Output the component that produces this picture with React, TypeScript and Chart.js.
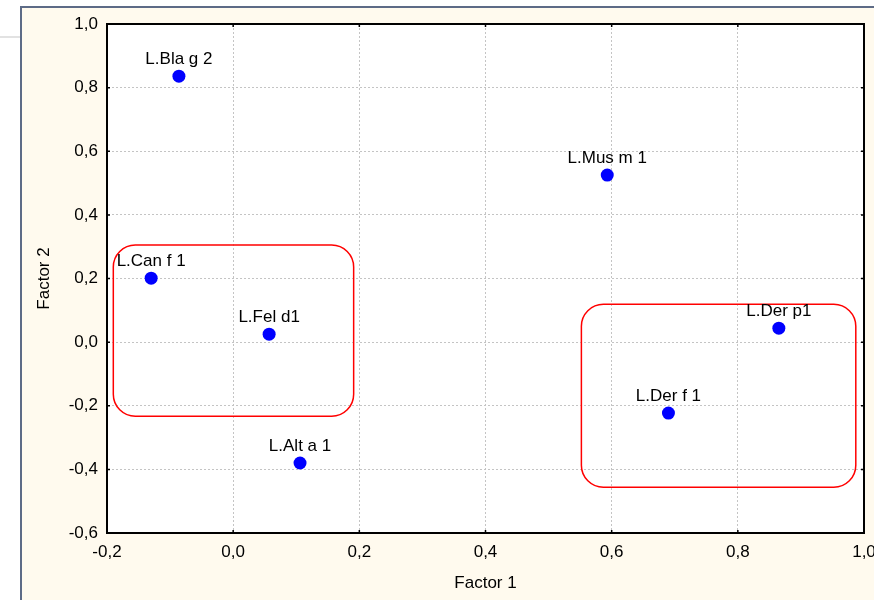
import React, { useEffect, useRef } from "react";
import { Chart, registerables } from "chart.js";

Chart.register(...registerables);

// ---- Data ----
const pointLabels = ["L.Bla g 2", "L.Mus m 1", "L.Can f 1", "L.Fel d1", "L.Alt a 1", "L.Der p1", "L.Der f 1"];
const factor1 = [-0.086, 0.593, -0.13, 0.057, 0.106, 0.865, 0.69];
const factor2 = [0.836, 0.525, 0.201, 0.025, -0.38, 0.044, -0.223];

// Group outlines (data coordinates)
const groupXMin = [-0.19, 0.552];
const groupXMax = [0.191, 0.987];
const groupYMax = [0.305, 0.119];
const groupYMin = [-0.233, -0.456];

const xTitle = "Factor 1";
const yTitle = "Factor 2";
const xMin = -0.2, xMax = 1.0, yMin = -0.6, yMax = 1.0, step = 0.2;

const FONT = '"Liberation Sans", Arial, sans-serif';
const FS = 17;

const fmt = (v: number) => (Math.round(v * 10) / 10).toFixed(1).replace(".", ",").replace("-0,0", "0,0");

const overlayPlugin = {
  id: "overlay",
  beforeDraw(chart: any) {
    const { ctx, chartArea: a } = chart;
    ctx.save();
    ctx.fillStyle = "#ffffff";
    ctx.fillRect(a.left, a.top, a.right - a.left, a.bottom - a.top);
    ctx.restore();
  },
  beforeDatasetsDraw(chart: any) {
    const { ctx } = chart;
    const xs = chart.scales.x, ys = chart.scales.y;
    ctx.save();
    ctx.strokeStyle = "#ff0000";
    ctx.lineWidth = 1.5;
    for (let i = 0; i < groupXMin.length; i++) {
      const l = xs.getPixelForValue(groupXMin[i]);
      const r = xs.getPixelForValue(groupXMax[i]);
      const t = ys.getPixelForValue(groupYMax[i]);
      const b = ys.getPixelForValue(groupYMin[i]);
      ctx.beginPath();
      ctx.roundRect(l, t, r - l, b - t, 22);
      ctx.stroke();
    }
    ctx.restore();
  },
  afterDatasetsDraw(chart: any) {
    const { ctx, chartArea: a } = chart;
    const xs = chart.scales.x, ys = chart.scales.y;
    ctx.save();
    // labels
    ctx.fillStyle = "#000";
    ctx.font = `${FS}px ${FONT}`;
    ctx.textAlign = "center";
    ctx.textBaseline = "alphabetic";
    for (let i = 0; i < pointLabels.length; i++) {
      const px = xs.getPixelForValue(factor1[i]);
      const py = ys.getPixelForValue(factor2[i]);
      ctx.fillText(pointLabels[i], px, py - 12);
    }
    // frame top/right
    ctx.strokeStyle = "#000";
    ctx.lineWidth = 2;
    ctx.beginPath();
    ctx.moveTo(a.left, a.top);
    ctx.lineTo(a.right, a.top);
    ctx.lineTo(a.right, a.bottom);
    ctx.stroke();
    // inward ticks
    ctx.lineWidth = 1.5;
    ctx.beginPath();
    xs.ticks.forEach((t: any) => {
      const x = xs.getPixelForValue(t.value);
      ctx.moveTo(x, a.bottom);
      ctx.lineTo(x, a.bottom - 3);
      ctx.moveTo(x, a.top);
      ctx.lineTo(x, a.top + 3);
    });
    ys.ticks.forEach((t: any) => {
      const y = ys.getPixelForValue(t.value);
      ctx.moveTo(a.left, y);
      ctx.lineTo(a.left + 3, y);
      ctx.moveTo(a.right, y);
      ctx.lineTo(a.right - 3, y);
    });
    ctx.stroke();
    ctx.restore();
  },
};

export default function App() {
  const ref = useRef<HTMLCanvasElement>(null);
  useEffect(() => {
    if (!ref.current) return;
    const lh = FS * 1.2;
    const chart = new Chart(ref.current, {
      type: "scatter",
      data: {
        datasets: [
          {
            data: factor1.map((x, i) => ({ x, y: factor2[i] })),
            backgroundColor: "#0000ff",
            borderWidth: 0,
            pointRadius: 6.5,
            pointHoverRadius: 6.5,
          },
        ],
      },
      options: {
        animation: false,
        responsive: false,
        devicePixelRatio: 1,
        events: [],
        layout: { padding: { left: 20, top: 24, right: 10, bottom: 0 } },
        plugins: { legend: { display: false }, tooltip: { enabled: false } },
        scales: {
          x: {
            type: "linear",
            min: xMin,
            max: xMax,
            afterBuildTicks: (s: any) => {
              const t = [];
              for (let v = 0; v <= Math.round((xMax - xMin) / step); v++) t.push({ value: xMin + v * step });
              s.ticks = t;
            },
            afterFit: (s: any) => {
              s.height = 67;
              s.paddingLeft = 0;
              s.paddingRight = 0;
            },
            grid: { color: "#c4c4c4", lineWidth: 1, drawTicks: false },
            border: { display: true, color: "#000", width: 2, dash: [2, 2] } as any,
            ticks: {
              padding: 9,
              color: "#000",
              font: { family: FONT, size: FS },
              maxRotation: 0,
              autoSkip: false,
              callback: (v: any) => fmt(Number(v)),
            },
            title: {
              display: true,
              text: xTitle,
              color: "#000",
              font: { family: FONT, size: FS },
              padding: { top: 0, bottom: 17 - lh / 2 },
            },
          },
          y: {
            type: "linear",
            min: yMin,
            max: yMax,
            afterBuildTicks: (s: any) => {
              const t = [];
              for (let v = 0; v <= Math.round((yMax - yMin) / step); v++) t.push({ value: yMin + v * step });
              s.ticks = t;
            },
            afterFit: (s: any) => {
              s.width = 87;
              s.paddingTop = 0;
              s.paddingBottom = 0;
            },
            grid: { color: "#c4c4c4", lineWidth: 1, drawTicks: false },
            border: { display: true, color: "#000", width: 2, dash: [2, 2] } as any,
            ticks: {
              padding: 9,
              color: "#000",
              font: { family: FONT, size: FS },
              autoSkip: false,
              callback: (v: any) => fmt(Number(v)),
            },
            title: {
              display: true,
              text: yTitle,
              color: "#000",
              font: { family: FONT, size: FS },
              padding: { top: 24 - lh / 2, bottom: 0 },
            },
          },
        },
      },
      plugins: [overlayPlugin],
    } as any);
    return () => chart.destroy();
  }, []);

  return (
    <div style={{ position: "absolute", left: 0, top: 0, width: 874, height: 600, background: "#ffffff", overflow: "hidden" }}>
      <div style={{ position: "absolute", left: 0, top: 36, width: 20, height: 2, background: "#e2e2e2" }} />
      <div
        style={{
          position: "absolute",
          left: 20,
          top: 6,
          width: 900,
          height: 700,
          borderLeft: "2px solid #5d6b86",
          borderTop: "2px solid #5d6b86",
          background: "#fffaee",
        }}
      />
      <canvas ref={ref} width={874} height={600} style={{ position: "absolute", left: 0, top: 0, width: 874, height: 600 }} />
    </div>
  );
}
